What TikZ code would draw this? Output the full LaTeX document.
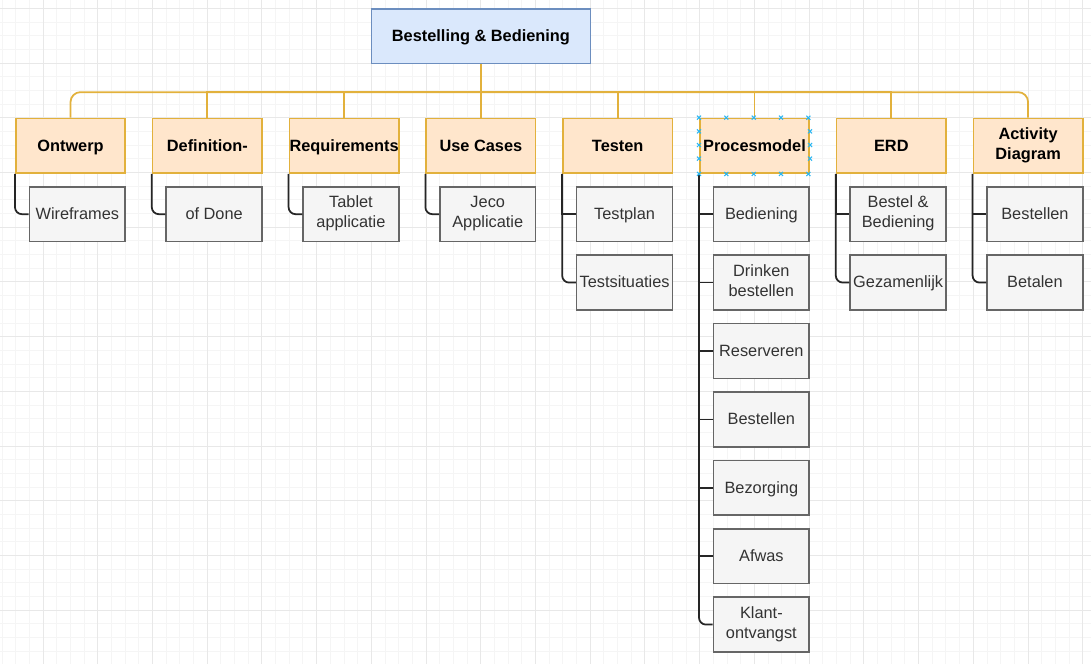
\documentclass[tikz,border=0pt]{standalone}
\usepackage{fontspec}
\setmainfont{Liberation Sans}
\definecolor{rootfill}{HTML}{DAE8FC}
\definecolor{rootline}{HTML}{6C8EBF}
\definecolor{phasefill}{HTML}{FFE6CC}
\definecolor{phaseline}{HTML}{E2B13C}
\definecolor{leaffill}{HTML}{F5F5F5}
\definecolor{leafline}{HTML}{666666}
\definecolor{leaftext}{HTML}{333333}
\definecolor{handleblue}{HTML}{29B6F2}
\newcommand\boxstrut{\rule[-2.6pt]{0pt}{11.2pt}}
\begin{document}
\begin{tikzpicture}[node distance=2.736cm,
	every node/.style={inner sep=0pt,align=center,font=\fontsize{9.3}{11.2}\selectfont,
		execute at begin node=\boxstrut,execute at end node=\boxstrut},
	rootbox/.style={draw=rootline,fill=rootfill,line width=0.9pt,minimum width=4.378cm,minimum height=1.094cm,font=\fontsize{9.3}{11.2}\selectfont\bfseries},
	phase/.style={draw=phaseline,fill=phasefill,line width=0.9pt,minimum width=2.189cm,minimum height=1.094cm,font=\fontsize{9.3}{11.2}\selectfont\bfseries},
	leaf/.style={draw=leafline,fill=leaffill,text=leaftext,line width=0.9pt,minimum width=1.915cm,minimum height=1.094cm,node distance=1.368cm},
	bus/.style={draw=phaseline,line width=1pt},
	tree/.style={draw=black!85,line width=1pt},
	fork/.style={to path={-| (\tikztotarget)}},
	elbow/.style={to path={|- (\tikztotarget)}},
	minorgrid/.style={draw=black!4,line width=0.5pt},
	majorgrid/.style={draw=black!9,line width=0.5pt},
	handle/.style={draw=handleblue,line width=0.6pt}]

% background grid
\fill[white] (0,0) rectangle (21.82,-13.28);
\useasboundingbox (0,0) rectangle (21.82,-13.28);
\begin{scope}[shift={(0.86,-0.166)}]
	\draw[minorgrid,step=0.2736cm] (-0.86,-13.114) grid (20.96,0.166);
	\draw[majorgrid,step=1.0944cm] (-0.86,-13.114) grid (20.96,0.166);
\end{scope}

\node[phase] (ontwerp) at (1.41,-2.916) {Ontwerp};
 \node[phase] (definition) [right of=ontwerp] {Definition-};
	\node[phase] (requirements) [right of=definition] {Requirements};
\node[phase] (usecases) [right of=requirements] {Use Cases};
\node[phase] (testen) [right of=usecases] {Testen};
	\node[phase] (procesmodel) [right of=testen] {Procesmodel};
\node[phase] (erd) [right of=procesmodel] {ERD};
\node[phase] (activity) [right of=erd] {Activity\\Diagram};

\node[rootbox] (root) [above of=usecases,node distance=2.189cm] {Bestelling \& Bediening};
\coordinate (hub) at ([yshift=-0.553cm]root.south);

\node[leaf] (wireframes) [below of=ontwerp,xshift=0.137cm] {Wireframes};
\node[leaf] (ofdone) [below of=definition,xshift=0.137cm] {of Done};
	\node[leaf] (tablet) [below of=requirements,xshift=0.137cm] {Tablet\\applicatie};
\node[leaf] (jeco) [below of=usecases,xshift=0.137cm] {Jeco\\Applicatie};

\node[leaf] (testplan) [below of=testen,xshift=0.137cm] {Testplan};
\node[leaf] (testsituaties) [below of=testplan] {Testsituaties};

\node[leaf] (bediening) [below of=procesmodel,xshift=0.137cm] {Bediening};
 \node[leaf] (drinken) [below of=bediening] {Drinken\\bestellen};
\node[leaf] (reserveren) [below of=drinken] {Reserveren};
\node[leaf] (bestellen) [below of=reserveren] {Bestellen};
\node[leaf] (bezorging) [below of=bestellen] {Bezorging};
\node[leaf] (afwas) [below of=bezorging] {Afwas};
\node[leaf] (klant) [below of=afwas] {Klant-\\ontvangst};

\node[leaf] (bestelbed) [below of=erd,xshift=0.137cm] {Bestel \&\\Bediening};
\node[leaf] (gezamenlijk) [below of=bestelbed] {Gezamenlijk};

\node[leaf] (adbestellen) [below of=activity,xshift=0.137cm] {Bestellen};
\node[leaf] (betalen) [below of=adbestellen] {Betalen};

\path[bus] (root) edge (hub)
	(hub) edge[fork,rounded corners=0.2cm] (ontwerp)
		edge[fork] (definition)
		edge[fork] (requirements)
		edge[fork] (usecases)
		edge[fork] (testen)
		edge[fork] (procesmodel)
		edge[fork] (erd)
		edge[fork,rounded corners=0.2cm] (activity);

\path[tree] (ontwerp.south west) edge[elbow,rounded corners=0.14cm] (wireframes)
	(definition.south west) edge[elbow,rounded corners=0.14cm] (ofdone)
	(requirements.south west) edge[elbow,rounded corners=0.14cm] (tablet)
	(usecases.south west) edge[elbow,rounded corners=0.14cm] (jeco)
	(testen.south west) edge[elbow] (testplan)
		edge[elbow,rounded corners=0.14cm] (testsituaties)
	(procesmodel.south west) edge[elbow] (bediening)
		edge[elbow] (drinken)
		edge[elbow] (reserveren)
		edge[elbow] (bestellen)
		edge[elbow] (bezorging)
		edge[elbow] (afwas)
		edge[elbow,rounded corners=0.14cm] (klant)
	(erd.south west) edge[elbow] (bestelbed)
		edge[elbow,rounded corners=0.14cm] (gezamenlijk)
	(activity.south west) edge[elbow] (adbestellen)
		edge[elbow,rounded corners=0.14cm] (betalen);

% selection handles
\foreach \i in {0,...,4}{
	\draw[handle] ([xshift=\i*0.547cm]procesmodel.north west) +(-0.04,-0.04) -- +(0.04,0.04) +(-0.04,0.04) -- +(0.04,-0.04);
	\draw[handle] ([xshift=\i*0.547cm]procesmodel.south west) +(-0.04,-0.04) -- +(0.04,0.04) +(-0.04,0.04) -- +(0.04,-0.04);
}
\foreach \i in {1,2,3}{
	\draw[handle] ([yshift=-\i*0.2735cm]procesmodel.north west) +(-0.04,-0.04) -- +(0.04,0.04) +(-0.04,0.04) -- +(0.04,-0.04);
	\draw[handle] ([yshift=-\i*0.2735cm]procesmodel.north east) +(-0.04,-0.04) -- +(0.04,0.04) +(-0.04,0.04) -- +(0.04,-0.04);
}

\end{tikzpicture}
\end{document}
